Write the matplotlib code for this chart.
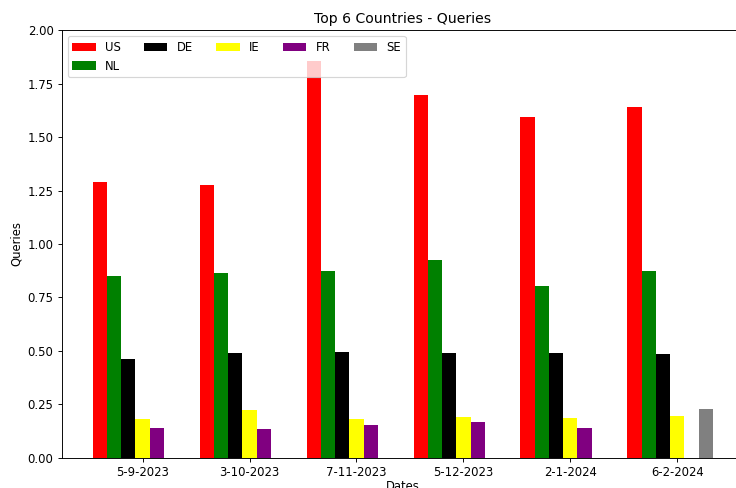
import numpy as np
import matplotlib.pyplot as plt

# Data
dates = ["5-9-2023", "3-10-2023", "7-11-2023", "5-12-2023", "2-1-2024", "6-2-2024"]
countries = ["US", "NL", "DE", "IE", "FR", "SE"]

us = [1.291, 1.276, 1.855, 1.698, 1.595, 1.639]
nl = [0.852, 0.866, 0.872, 0.924, 0.805, 0.874]
de = [0.461, 0.489, 0.494, 0.489, 0.489, 0.486]
ie = [0.182, 0.223, 0.182, 0.190, 0.187, 0.196]
fr = [0.139, 0.136, 0.153, 0.168, 0.140, 0.0]
se = [0.0, 0.0, 0.0, 0.0, 0.0, 0.229]

series = [us, nl, de, ie, fr, se]
colors = ["red", "green", "black", "yellow", "purple", "gray"]

# reference looks rendered a bit smaller (fonts ~0.84x), so use a lower dpi
DPI = 84
fig = plt.figure(figsize=(736 / DPI, 488 / DPI), dpi=DPI)
ax = fig.add_axes([0.0838, 0.0621, 0.927, 0.876])

x = np.arange(len(dates))
width = 0.8 / len(countries)

for i, (name, vals, col) in enumerate(zip(countries, series, colors)):
    ax.bar(x + i * width, vals, width, color=col, label=name)

ax.set_xticks(x + width * len(countries) / 2)
ax.set_xticklabels(dates)
ax.set_ylim(0, 2.0)
ax.set_title("Top 6 Countries - Queries")
ax.set_xlabel("Dates", labelpad=1)
ax.set_ylabel("Queries")
ax.legend(loc="upper left", ncol=5)

plt.savefig("out.png", dpi=DPI)
